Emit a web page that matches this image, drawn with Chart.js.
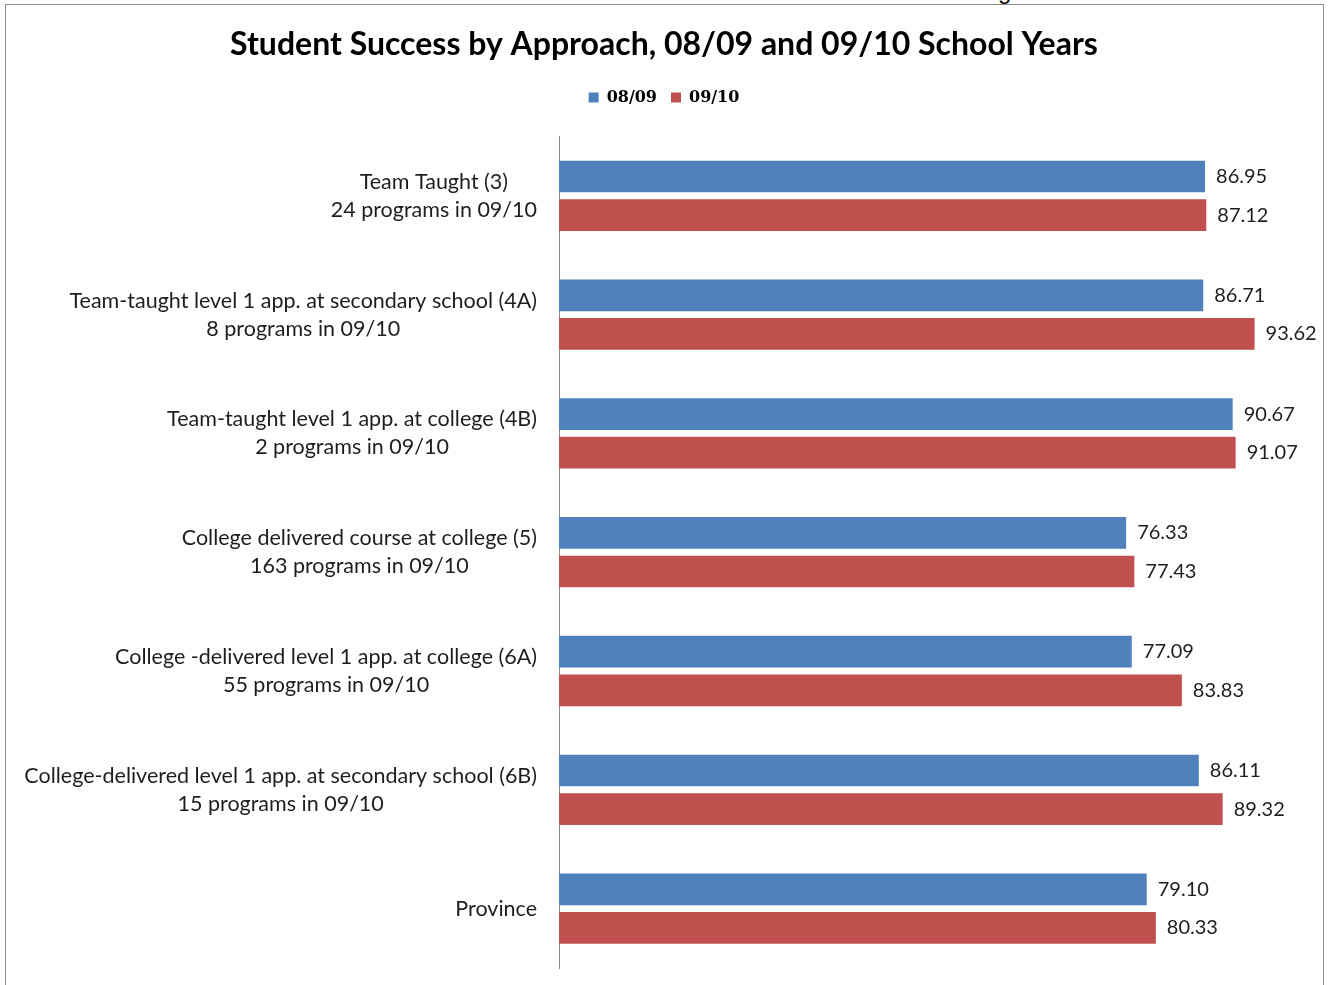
<!DOCTYPE html>
<html>
<head>
<meta charset="utf-8">
<title>Student Success by Approach</title>
<script src="https://cdn.jsdelivr.net/npm/chart.js@4.4.0/dist/chart.umd.min.js"></script>
<style>
  html, body { margin: 0; padding: 0; background: #fff; overflow: hidden; }
  #marco { position: absolute; left: 5px; top: 4px; width: 1317px; height: 1000px; border: 1px solid #8f8f8f; }
  #cortado { position: absolute; left: 998px; top: -23px; font: 24px 'Liberation Sans', sans-serif; color: #000; }
  #contenedor { position: absolute; left: 0; top: 0; width: 1331px; height: 985px; }
</style>
</head>
<body>
<div id="marco"></div>
<div id="cortado">g</div>
<div id="contenedor"><canvas id="graficoExito"></canvas></div>
<script>
// Datos del gráfico
const categorias = [
  ['Team Taught (3)', '24 programs in 09/10'],
  ['Team-taught level 1 app. at secondary school (4A)', '8 programs in 09/10'],
  ['Team-taught level 1 app. at college (4B)', '2 programs in 09/10'],
  ['College delivered course at college (5)', '163 programs in 09/10'],
  ['College -delivered level 1 app. at college (6A)', '55 programs in 09/10'],
  ['College-delivered level 1 app. at secondary school (6B)', '15 programs in 09/10'],
  ['Province']
];
const series = ['08/09', '09/10'];
const valores0809 = [86.95, 86.71, 90.67, 76.33, 77.09, 86.11, 79.10];
const valores0910 = [87.12, 93.62, 91.07, 77.43, 83.83, 89.32, 80.33];

const colorTexto = '#1e1e1e';

// Etiquetas de categorías y valores dibujadas a mano
const etiquetasPlugin = {
  id: 'etiquetas',
  afterDatasetsDraw(chart) {
    const ctx = chart.ctx;
    const escalaY = chart.scales.y;
    ctx.save();
    ctx.fillStyle = colorTexto;
    ctx.textBaseline = 'middle';

    // categorías: bloque alineado a la derecha, líneas centradas entre sí
    ctx.font = '21.5px Lato';
    ctx.textAlign = 'center';
    categorias.forEach((lineas, i) => {
      const y = escalaY.getPixelForValue(i);
      const ancho = Math.max(...lineas.map(l => ctx.measureText(l).width));
      const cx = escalaY.right - 22 - ancho / 2;
      const y0 = y - (lineas.length - 1) * 28 / 2;
      lineas.forEach((l, j) => ctx.fillText(l, cx, y0 + j * 28));
    });

    // valores al final de cada barra
    ctx.font = '20px Lato';
    ctx.textAlign = 'left';
    chart.data.datasets.forEach((ds, d) => {
      const meta = chart.getDatasetMeta(d);
      meta.data.forEach((barra, i) => {
        ctx.fillText(ds.data[i].toFixed(2), barra.x + 11, barra.y);
      });
    });
    ctx.restore();
  }
};

const ctx = document.getElementById('graficoExito').getContext('2d');
new Chart(ctx, {
  type: 'bar',
  data: {
    labels: categorias,
    datasets: [
      { label: series[0], data: valores0809, backgroundColor: '#4F81BD' },
      { label: series[1], data: valores0910, backgroundColor: '#C0504D' }
    ]
  },
  options: {
    indexAxis: 'y',
    responsive: true,
    maintainAspectRatio: false,
    animation: false,
    categoryPercentage: 0.65,
    barPercentage: 0.82,
    layout: { padding: { left: 26, right: 29, top: 0, bottom: 17 } },
    plugins: {
      title: {
        display: true,
        text: 'Student Success by Approach, 08/09 and 09/10 School Years',
        color: '#000',
        font: { family: 'Lato', size: 32, weight: 'bold' },
        padding: { top: 25, bottom: 12 }
      },
      legend: {
        display: true,
        labels: {
          color: '#000',
          font: { family: 'DejaVu Serif', size: 16, weight: 'bold' },
          boxWidth: 10,
          boxHeight: 10,
          padding: 14
        }
      },
      tooltip: { enabled: false }
    },
    scales: {
      x: {
        display: true,
        position: 'top',
        min: 0,
        max: 100,
        grid: { display: false },
        border: { display: false },
        ticks: { display: false },
        afterFit(escala) { escala.height = 21; }
      },
      y: {
        grid: { display: false },
        border: { display: true, color: '#8a8a8a', width: 1 },
        ticks: { display: false },
        afterFit(escala) { escala.width = 533; }
      }
    }
  },
  plugins: [etiquetasPlugin]
});
</script>
</body>
</html>
